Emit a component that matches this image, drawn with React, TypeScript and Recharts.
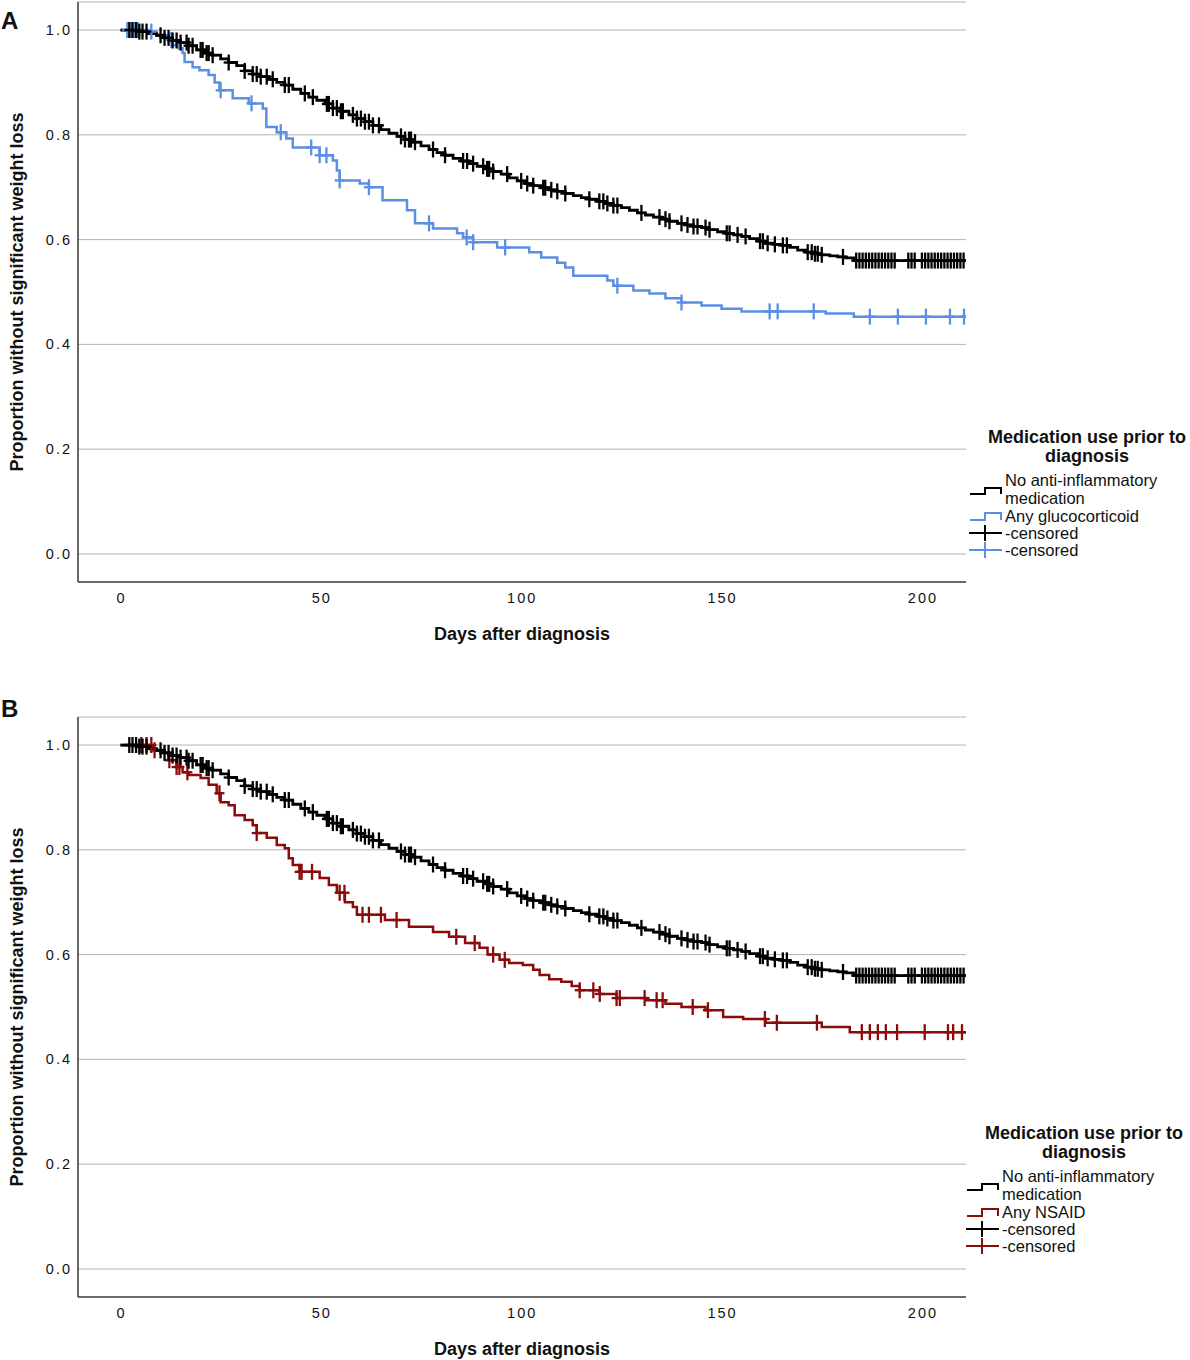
import React from 'react';
import {
  ComposedChart,
  Line,
  Scatter,
  XAxis,
  YAxis,
  CartesianGrid,
  Label,
} from 'recharts';

// axis ticks
const xTicks = [0, 50, 100, 150, 200];
const yTicks = [0, 0.2, 0.4, 0.6, 0.8, 1.0];

// No anti-inflammatory medication (same curve in both panels)
const noMedDays = [
  0, 4, 7, 9, 11, 13, 15, 17, 19, 21, 23, 25, 27, 29, 31, 33, 35, 37, 39, 41,
  43, 45, 47, 49, 51, 53, 55, 57, 59, 61, 63, 65, 67, 69, 71, 73, 75, 77, 79,
  81, 83, 85, 87, 89, 91, 93, 95, 97, 99, 101, 103, 105, 107, 109, 111, 113,
  115, 117, 119, 121, 123, 125, 127, 129, 131, 133, 135, 137, 139, 141, 143,
  145, 147, 149, 151, 153, 155, 157, 159, 161, 163, 165, 167, 169, 171, 173,
  175, 177, 179, 181, 183, 211,
];
const noMedSurv = [
  1.0, 0.997, 0.993, 0.99, 0.985, 0.98, 0.976, 0.97, 0.962, 0.956, 0.952,
  0.945, 0.938, 0.932, 0.922, 0.916, 0.911, 0.906, 0.9, 0.895, 0.887, 0.879,
  0.872, 0.866, 0.859, 0.851, 0.845, 0.838, 0.831, 0.825, 0.818, 0.81, 0.803,
  0.797, 0.791, 0.786, 0.779, 0.772, 0.766, 0.761, 0.755, 0.75, 0.745, 0.74,
  0.735, 0.73, 0.725, 0.718, 0.712, 0.707, 0.703, 0.699, 0.695, 0.692, 0.688,
  0.684, 0.68, 0.677, 0.673, 0.669, 0.665, 0.661, 0.656, 0.651, 0.647, 0.643,
  0.639, 0.635, 0.631, 0.628, 0.625, 0.623, 0.619, 0.615, 0.612, 0.609, 0.606,
  0.602, 0.597, 0.593, 0.591, 0.589, 0.585, 0.58, 0.576, 0.573, 0.571, 0.569,
  0.567, 0.565, 0.56, 0.56,
];
const noMedCensored = [
  2.2, 3, 3.9, 4.7, 5.5, 6.5, 10, 11, 12, 13, 14, 15, 16.5, 17, 18, 20, 20.5,
  21.5, 22, 23, 27, 31, 33, 34, 35, 36.5, 38, 41, 42, 46, 48, 51.5, 52, 53, 54,
  55, 55.5, 58, 59, 60, 61, 62, 63, 64.5, 70, 71, 72, 72.5, 73.5, 78, 81, 85.5,
  86.5, 88, 90.5, 91.5, 92, 93, 96.5, 100, 101.5, 103, 105.5, 106, 107.5, 109,
  111, 117, 119.5, 120.5, 121.5, 123, 124, 130, 134.5, 136, 137, 140, 141.5,
  143, 144, 146, 147, 151.3, 152, 154, 156, 159.6, 160.3, 161.5, 163.3, 165.3,
  166.3, 171.5, 172.5, 173.3, 174, 175, 180.3, 183.6, 184.4, 185.2, 186, 186.8,
  187.6, 188.4, 189.2, 190, 190.8, 191.6, 192.4, 193.2, 196.6, 197.4, 198.2,
  200, 200.8, 201.6, 202.4, 203.2, 204, 204.8, 205.6, 206.4, 207.2, 208, 208.8,
  209.6, 210.4,
];

// Any glucocorticoid (panel A)
const glucoDays = [
  0, 7, 9, 12, 13, 14.5, 15.5, 16, 18, 19.7, 22, 23.5, 24.7, 28, 32, 35.5,
  36.4, 39, 41.4, 43, 49.7, 53, 54, 54.7, 59.7, 62, 65.4, 71.5, 73.5, 78, 84,
  85.5, 88, 94, 102, 105, 109, 111, 113, 121.5, 123, 128, 132, 136, 140, 145,
  150, 155, 176, 183, 211,
];
const glucoSurv = [
  1.0, 0.997, 0.99, 0.981, 0.971, 0.965, 0.956, 0.939, 0.929, 0.923, 0.914,
  0.9, 0.885, 0.87, 0.86, 0.85, 0.815, 0.805, 0.793, 0.776, 0.761, 0.751,
  0.732, 0.713, 0.707, 0.7, 0.675, 0.656, 0.631, 0.621, 0.612, 0.604, 0.595,
  0.585, 0.576, 0.566, 0.556, 0.547, 0.531, 0.522, 0.512, 0.503, 0.497, 0.488,
  0.48, 0.474, 0.468, 0.463, 0.459, 0.453, 0.453,
];
const glucoCensored = [
  1.7, 2.7, 3.5, 4.3, 7.7, 12.7, 25, 32.7, 40, 47.6, 49.7, 51.4, 54.7, 62, 77,
  86.4, 88, 96, 124, 140, 162, 164, 173, 187, 194, 201, 207, 210.5,
];

// Any NSAID (panel B)
const nsaidDays = [
  0, 8, 10, 12, 14, 15.5, 17, 20, 22, 24, 25, 27, 28.5, 31, 33, 34, 36.5, 39,
  41, 42, 43, 44.7, 49.7, 52, 54, 56, 58, 59, 66, 72, 78, 82, 86, 89.6, 91.6,
  94.6, 97, 100.4, 103, 104.6, 107, 110, 112.6, 114.6, 119.6, 123.8, 131, 136,
  140, 146, 150.4, 155.4, 161, 175, 182, 211,
];
const nsaidSurv = [
  1.0, 0.99, 0.985, 0.971, 0.958, 0.948, 0.943, 0.937, 0.924, 0.908, 0.891,
  0.885, 0.866, 0.857, 0.847, 0.832, 0.823, 0.809, 0.803, 0.784, 0.771, 0.758,
  0.746, 0.733, 0.718, 0.7, 0.691, 0.676, 0.666, 0.653, 0.643, 0.634, 0.622,
  0.613, 0.6, 0.59, 0.584, 0.58, 0.571, 0.561, 0.553, 0.548, 0.54, 0.532,
  0.525, 0.517, 0.513, 0.506, 0.5, 0.494, 0.481, 0.477, 0.47, 0.462, 0.452,
  0.452,
];
const nsaidCensored = [
  5.2, 6.5, 7.7, 8.5, 12.2, 14, 14.7, 16.7, 24.7, 34, 44.7, 45.2, 47.8, 54.7,
  55.9, 60.4, 62, 65, 68.9, 83.8, 88.4, 93, 95.9, 114.6, 118, 119.6, 123.8,
  124.6, 130.8, 133.8, 135.3, 142.8, 146.6, 160.8, 163.8, 173.8, 185, 187, 189,
  191, 193.8, 200.7, 206.5, 207.8, 210,
];

const FONT = '"Liberation Sans", Arial, Helvetica, sans-serif';
const BLUE = '#5b8fe3';
const RED = '#8b0a0a';

type Pt = { day: number; p: number };

const toSteps = (days: number[], surv: number[]): Pt[] =>
  days.map((d, i) => ({ day: d, p: surv[i] }));

// survival value of the step curve at a given day
const survAt = (days: number[], surv: number[], d: number) => {
  let v = surv[0];
  for (let i = 0; i < days.length; i++) if (days[i] <= d) v = surv[i];
  return v;
};

const toCensor = (days: number[], surv: number[], cens: number[]): Pt[] =>
  cens.map((d) => ({ day: d, p: survAt(days, surv, d) }));

const makeCross = (color: string) => (props: any) => {
  const { cx, cy } = props;
  if (cx == null || cy == null) return <g />;
  return (
    <g>
      <line x1={cx} y1={cy - 8} x2={cx} y2={cy + 8} stroke={color} strokeWidth={2.3} />
      <line x1={cx - 5} y1={cy} x2={cx + 5} y2={cy} stroke={color} strokeWidth={2.3} />
    </g>
  );
};

const XTick = (props: any) => {
  const { x, y, payload } = props;
  return (
    <text x={x + 1} y={y + 13} textAnchor="middle" fontSize={14.5} fill="#111" letterSpacing={2} fontFamily={FONT}>
      {payload.value}
    </text>
  );
};

const YTick = (props: any) => {
  const { x, y, payload } = props;
  return (
    <text x={x + 2} y={y + 5} textAnchor="end" fontSize={14.5} fill="#111" letterSpacing={2} fontFamily={FONT}>
      {Number(payload.value).toFixed(1)}
    </text>
  );
};

const YTitle = (props: any) => {
  const vb = props.viewBox || { x: 0, y: 2, width: 78, height: 580 };
  const cx = 17;
  const cy = vb.y + vb.height / 2;
  return (
    <text
      x={cx}
      y={cy}
      transform={`rotate(-90, ${cx}, ${cy})`}
      textAnchor="middle"
      dominantBaseline="central"
      fontSize={18}
      fontWeight="bold"
      fontFamily={FONT}
      fill="#111"
    >
      Proportion without significant weight loss
    </text>
  );
};

const XTitle = (props: any) => {
  const vb = props.viewBox || { x: 78, y: 581, width: 888, height: 70 };
  return (
    <text
      x={vb.x + vb.width / 2}
      y={vb.y + 52}
      textAnchor="middle"
      dominantBaseline="central"
      fontSize={18}
      fontWeight="bold"
      fontFamily={FONT}
      fill="#111"
    >
      Days after diagnosis
    </text>
  );
};

function KMLegend({ left, top, label, color }: { left: number; top: number; label: string; color: string }) {
  return (
    <svg
      width={240}
      height={150}
      style={{ position: 'absolute', left, top, overflow: 'visible' }}
      fontFamily={FONT}
    >
      <text x={127} y={17} textAnchor="middle" dominantBaseline="central" fontSize={18} fontWeight="bold" fill="#111">
        Medication use prior to
      </text>
      <text x={127} y={36} textAnchor="middle" dominantBaseline="central" fontSize={18} fontWeight="bold" fill="#111">
        diagnosis
      </text>
      <path d="M10,74 H25 V68 H41 V74" fill="none" stroke="#000" strokeWidth={2} />
      <text x={45} y={60} dominantBaseline="central" fontSize={16.5} fill="#111">No anti-inflammatory</text>
      <text x={45} y={78} dominantBaseline="central" fontSize={16.5} fill="#111">medication</text>
      <path d="M10,100 H25 V93 H41 V100" fill="none" stroke={color} strokeWidth={2} />
      <text x={45} y={96} dominantBaseline="central" fontSize={16.5} fill="#111">{label}</text>
      <line x1={9} y1={113} x2={42} y2={113} stroke="#000" strokeWidth={2} />
      <line x1={25} y1={105} x2={25} y2={121} stroke="#000" strokeWidth={2} />
      <text x={45} y={113} dominantBaseline="central" fontSize={16.5} fill="#111">-censored</text>
      <line x1={9} y1={130} x2={42} y2={130} stroke={color} strokeWidth={2} />
      <line x1={25} y1={122} x2={25} y2={138} stroke={color} strokeWidth={2} />
      <text x={45} y={130} dominantBaseline="central" fontSize={16.5} fill="#111">-censored</text>
    </svg>
  );
}

function KMPanel({
  days,
  surv,
  cens,
  color,
}: {
  days: number[];
  surv: number[];
  cens: number[];
  color: string;
}) {
  const refSteps = toSteps(noMedDays, noMedSurv);
  const refCens = toCensor(noMedDays, noMedSurv, noMedCensored);
  const steps = toSteps(days, surv);
  const censPts = toCensor(days, surv, cens);

  return (
    <ComposedChart
      width={1190}
      height={652}
      margin={{ top: 2, right: 224, left: 0, bottom: 0 }}
      style={{ fontFamily: FONT }}
    >
      <CartesianGrid vertical={false} stroke="#b4b4b4" strokeWidth={1} />
      <XAxis
        type="number"
        dataKey="day"
        domain={[-10.6, 211]}
        ticks={xTicks}
        allowDataOverflow
        tickLine={false}
        axisLine={{ stroke: '#444', strokeWidth: 1.6 }}
        tick={<XTick />}
        height={70}
      >
        <Label content={<XTitle />} />
      </XAxis>
      <YAxis
        type="number"
        dataKey="p"
        domain={[-0.0535, 1.0535]}
        ticks={yTicks}
        allowDataOverflow
        tickLine={false}
        axisLine={{ stroke: '#444', strokeWidth: 1.6 }}
        tick={<YTick />}
        width={78}
      >
        <Label content={<YTitle />} />
      </YAxis>
      <Line
        data={steps}
        dataKey="p"
        type="stepAfter"
        stroke={color}
        strokeWidth={2.5}
        dot={false}
        activeDot={false}
        isAnimationActive={false}
      />
      <Scatter data={censPts} dataKey="p" shape={makeCross(color)} isAnimationActive={false} />
      <Line
        data={refSteps}
        dataKey="p"
        type="stepAfter"
        stroke="#000"
        strokeWidth={2.8}
        dot={false}
        activeDot={false}
        isAnimationActive={false}
      />
      <Scatter data={refCens} dataKey="p" shape={makeCross('#000')} isAnimationActive={false} />
    </ComposedChart>
  );
}

export default function App() {
  return (
    <div
      style={{
        position: 'absolute',
        left: 0,
        top: 0,
        width: 1190,
        height: 1360,
        background: '#fff',
        fontFamily: FONT,
        overflow: 'hidden',
      }}
    >
      <div style={{ position: 'absolute', left: 0, top: 0 }}>
        <KMPanel days={glucoDays} surv={glucoSurv} cens={glucoCensored} color={BLUE} />
      </div>
      <div style={{ position: 'absolute', left: 0, top: 715 }}>
        <KMPanel days={nsaidDays} surv={nsaidSurv} cens={nsaidCensored} color={RED} />
      </div>
      <div style={{ position: 'absolute', left: 1, top: 9, fontSize: 24, fontWeight: 'bold', lineHeight: 1, color: '#111' }}>A</div>
      <div style={{ position: 'absolute', left: 1, top: 697, fontSize: 24, fontWeight: 'bold', lineHeight: 1, color: '#111' }}>B</div>
      <KMLegend left={960} top={420} label="Any glucocorticoid" color={BLUE} />
      <KMLegend left={957} top={1116} label="Any NSAID" color={RED} />
    </div>
  );
}
